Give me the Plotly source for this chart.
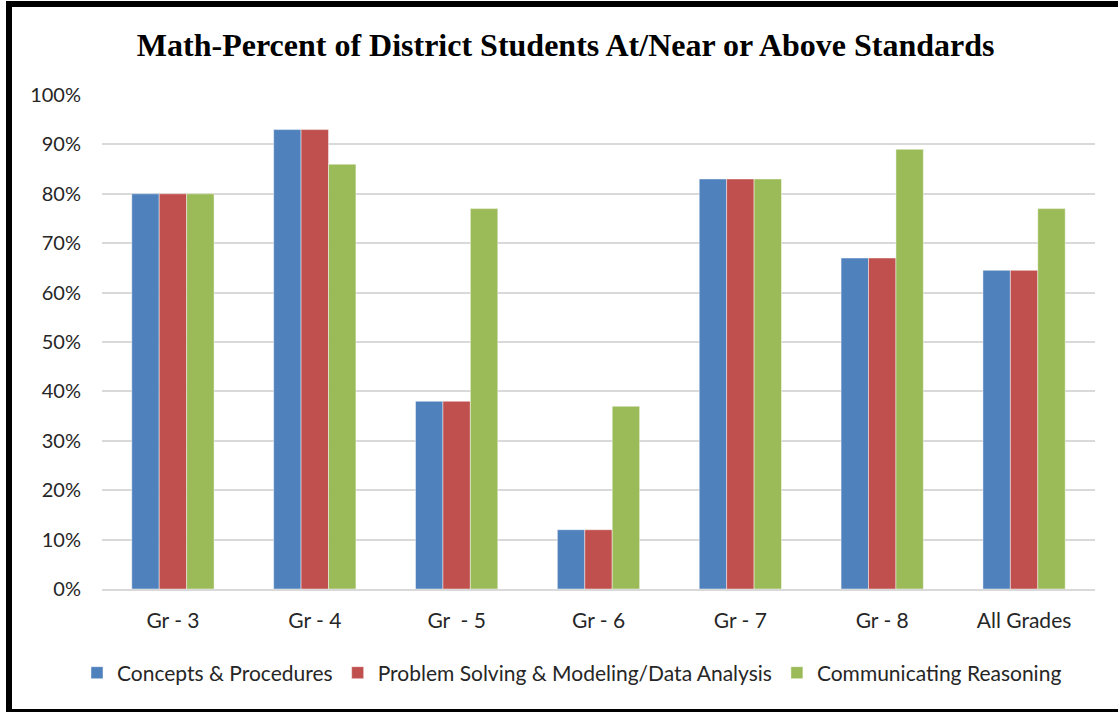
import plotly.graph_objects as go

categories = ["Gr - 3", "Gr - 4", "Gr \u00a0- 5", "Gr - 6", "Gr - 7", "Gr - 8", "All Grades"]
concepts = [80, 93, 38, 12, 83, 67, 64.5]
problem_solving = [80, 93, 38, 12, 83, 67, 64.5]
communicating = [80, 86, 77, 37, 83, 89, 77]
series_names = ["Concepts & Procedures", "Problem Solving & Modeling/Data Analysis", "Communicating Reasoning"]
colors = ["#4F81BD", "#C0504D", "#9BBB59"]
y_ticks = [0, 10, 20, 30, 40, 50, 60, 70, 80, 90, 100]
y_tick_labels = [f"{v}%" for v in y_ticks]

W, H = 1118, 712
L, R, T, B = 102, 23, 95, 123
PW, PH = W - L - R, H - T - B

fig = go.Figure()
for name, vals, col in zip(series_names, [concepts, problem_solving, communicating], colors):
    fig.add_trace(go.Bar(
        x=categories, y=vals, name=name,
        marker=dict(color=col, line=dict(color="rgba(255,255,255,0.45)", width=1)),
    ))

def px_x(p):
    return (p - L) / PW

def px_y(p):
    return (H - B - p) / PH

shapes = [
    dict(type="line", xref="paper", yref="paper", x0=px_x(6), x1=px_x(1118), y0=px_y(4), y1=px_y(4),
         line=dict(color="black", width=6)),
    dict(type="line", xref="paper", yref="paper", x0=px_x(9), x1=px_x(9), y0=px_y(1), y1=px_y(712),
         line=dict(color="black", width=6)),
    dict(type="line", xref="paper", yref="paper", x0=px_x(6), x1=px_x(1118), y0=px_y(710.5), y1=px_y(710.5),
         line=dict(color="black", width=3)),
]

fig.update_layout(
    width=W, height=H,
    margin=dict(l=L, r=R, t=T, b=B),
    paper_bgcolor="white", plot_bgcolor="white",
    barmode="group", bargap=0.42, bargroupgap=0,
    title=dict(text="<b>Math-Percent of District Students At/Near or Above Standards</b>",
               x=0.506, xanchor="center", y=1 - 45 / H, yanchor="middle",
               font=dict(family="Liberation Serif, Times New Roman, serif", size=32, color="black")),
    font=dict(family="Lato, Calibri, sans-serif", size=21, color="#262626"),
    legend=dict(orientation="h", x=px_x(572), xanchor="center", y=px_y(673), yanchor="middle",
                font=dict(size=21, color="#262626"), itemwidth=30, traceorder="normal"),
    xaxis=dict(showgrid=False, showline=True, linecolor="#D9D9D9", linewidth=1.5,
               ticks="", ticklabelstandoff=12, tickfont=dict(size=21)),
    yaxis=dict(range=[0, 100], tickvals=y_ticks, ticktext=y_tick_labels, showgrid=True,
               gridcolor="#D9D9D9", gridwidth=1.5, zeroline=False, showline=False,
               ticks="", ticklabelstandoff=20, tickfont=dict(size=20)),
    shapes=shapes,
)

fig.write_html("out.html", config={"displayModeBar": False})
with open("out.html", "r", encoding="utf-8") as f:
    html = f.read()
html = html.replace("<body>", '<body style="margin:0;padding:0;overflow:hidden">', 1)
with open("out.html", "w", encoding="utf-8") as f:
    f.write(html)
